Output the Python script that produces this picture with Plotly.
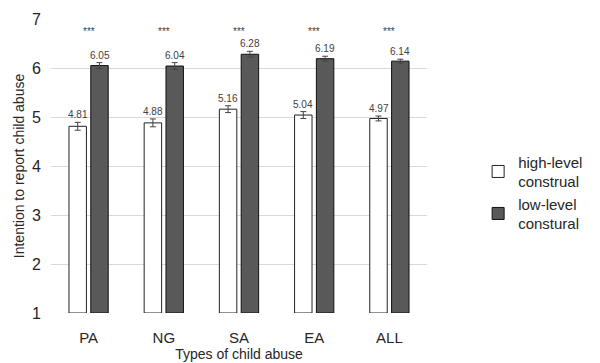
import plotly.graph_objects as go

categories = ["PA", "NG", "SA", "EA", "ALL"]
high_level = [4.81, 4.88, 5.16, 5.04, 4.97]
low_level = [6.05, 6.04, 6.28, 6.19, 6.14]
high_err = [0.08, 0.08, 0.07, 0.07, 0.05]
low_err = [0.06, 0.07, 0.06, 0.05, 0.04]
sig_labels = ["***", "***", "***", "***", "***"]
sig_y = 6.74

FONT = "Arial, Liberation Sans, sans-serif"
TXT = "#262626"

fig = go.Figure()
fig.add_trace(go.Bar(
    x=categories, y=[v - 1 for v in high_level], base=1,
    name="high-level<br>construal",
    marker=dict(color="white", line=dict(color="#222", width=1)),
    error_y=dict(type="data", array=high_err, color="#444", thickness=1, width=3),
    hoverinfo="skip",
))
fig.add_trace(go.Bar(
    x=categories, y=[v - 1 for v in low_level], base=1,
    name="low-level<br>constural",
    marker=dict(color="#595959", line=dict(color="#111", width=1)),
    error_y=dict(type="data", array=low_err, color="#444", thickness=1, width=3),
    hoverinfo="skip",
))

annotations = []
for i, c in enumerate(categories):
    for val, err, off in ((high_level[i], high_err[i], -0.145), (low_level[i], low_err[i], 0.145)):
        annotations.append(dict(
            x=i + off, y=val + err, xref="x", yref="y",
            text=f"{val:.2f}", showarrow=False, yanchor="bottom", yshift=0,
            font=dict(family=FONT, size=10, color="#404040"),
        ))
    annotations.append(dict(
        x=i, y=sig_y, xref="x", yref="y", text=sig_labels[i], showarrow=False,
        font=dict(family=FONT, size=10, color="#404040"),
    ))

fig.update_layout(
    width=600, height=363,
    margin=dict(l=51, r=168, t=19, b=50),
    plot_bgcolor="white", paper_bgcolor="white",
    barmode="group", bargap=0.42, bargroupgap=0.2,
    font=dict(family=FONT, size=14, color=TXT),
    annotations=annotations,
    showlegend=True,
    legend=dict(x=1.136, y=0.41, yanchor="middle", xanchor="left",
                font=dict(family=FONT, size=15, color=TXT),
                tracegroupgap=4, itemwidth=30,
                entrywidth=75, entrywidthmode="pixels"),
    xaxis=dict(showline=False, ticks="", tickfont=dict(size=15), automargin=False,
               ticklabelstandoff=14,
               title=dict(text="Types of child abuse", font=dict(size=14), standoff=4)),
    yaxis=dict(range=[1, 7], dtick=1, showgrid=True, gridcolor="#d9d9d9", gridwidth=1,
               zeroline=False, showline=False, ticks="", tickfont=dict(size=16),
               automargin=False, ticklabelstandoff=9,
               title=dict(text="Intention to report child abuse", font=dict(size=14), standoff=4)),
)

fig.write_html("out.html", config={"displayModeBar": False},
               post_script="document.body.style.margin='0';")
